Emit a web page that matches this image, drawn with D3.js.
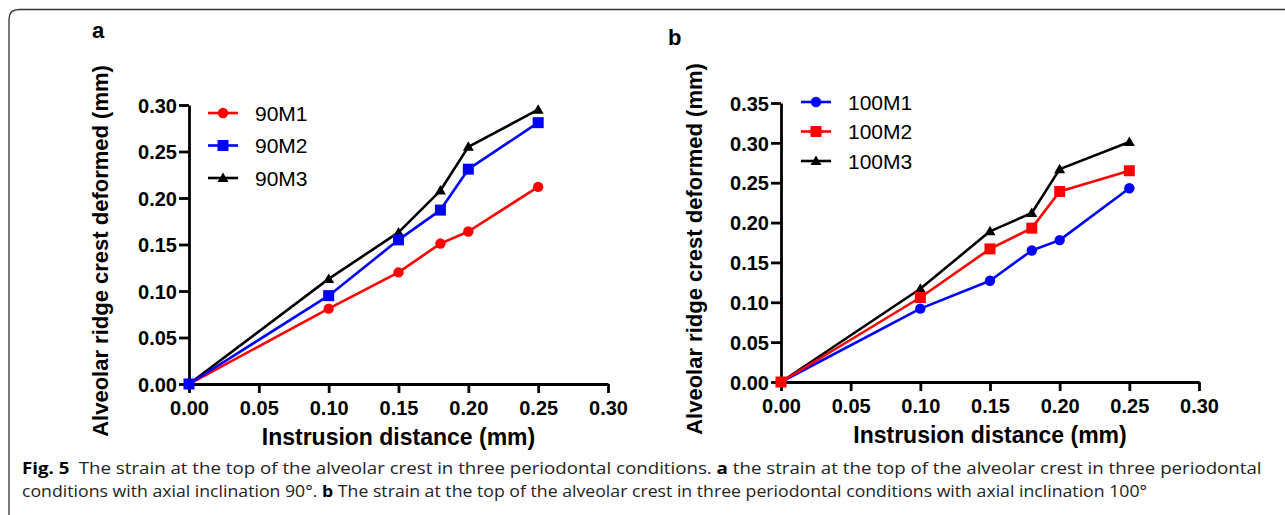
<!DOCTYPE html>
<html>
<head>
<meta charset="utf-8">
<script src="https://cdn.jsdelivr.net/npm/d3@7"></script>
<style>
  html, body { margin: 0; padding: 0; background: #fff; }
  svg { display: block; }
  .tick text { font-family: "Liberation Sans", Arial, sans-serif; font-weight: bold; font-size: 20px; fill: #000; }
  .axis-title { font-family: "Liberation Sans", Arial, sans-serif; font-weight: bold; font-size: 22px; }
  .x-title { font-size: 23px; }
  .legend text { font-family: "Liberation Sans", Arial, sans-serif; font-size: 21px; }
  .caption { font-family: "Open Sans", sans-serif; font-size: 16.5px; fill: #222; }
</style>
</head>
<body>
<div id="chart"></div>
<script>
// x positions shared by both panels (mm)
var xValues = [0, 0.10, 0.15, 0.18, 0.20, 0.25];
var xTicks = [0, 0.05, 0.10, 0.15, 0.20, 0.25, 0.30];

// panel a, axial inclination 90
var namesA = ["90M1", "90M2", "90M3"];
var a90M1 = [0, 0.081, 0.120, 0.151, 0.164, 0.212];
var a90M2 = [0, 0.095, 0.155, 0.187, 0.231, 0.281];
var a90M3 = [0, 0.113, 0.163, 0.208, 0.255, 0.295];
var yTicksA = [0, 0.05, 0.10, 0.15, 0.20, 0.25, 0.30];

// panel b, axial inclination 100
var namesB = ["100M1", "100M2", "100M3"];
var b100M1 = [0, 0.092, 0.127, 0.165, 0.178, 0.243];
var b100M2 = [0, 0.106, 0.167, 0.193, 0.239, 0.265];
var b100M3 = [0, 0.117, 0.189, 0.212, 0.267, 0.301];
var yTicksB = [0, 0.05, 0.10, 0.15, 0.20, 0.25, 0.30, 0.35];

var xLabel = "Instrusion distance (mm)";
var yLabel = "Alveolar ridge crest deformed (mm)";

var svg = d3.select("#chart")
    .append("svg")
    .attr("width", 1285)
    .attr("height", 515);

// frame round the figure
svg.append("path")
    .attr("d", "M9,515 L9,19 Q9,9.5 19,9.5 L1285,9.5")
    .attr("fill", "none")
    .attr("stroke", "#333")
    .attr("stroke-width", 1.3);

var fmt = d3.format(".2f");

function marker(g, shape, color) {
    if (shape === "circle") {
        g.append("circle").attr("r", 5.2).attr("fill", color);
    } else if (shape === "square") {
        g.append("rect").attr("x", -5.5).attr("y", -5.5)
            .attr("width", 11).attr("height", 11).attr("fill", color);
    } else {
        g.append("path").attr("d", "M0,-5.5 L5.5,4 L-5.5,4 Z").attr("fill", color);
    }
}

function drawPanel(p) {
    var g = svg.append("g")
        .attr("transform", "translate(" + p.left + "," + p.top + ")");

    var x = d3.scaleLinear().domain([0, 0.30]).range([0, p.width]);
    var y = d3.scaleLinear().domain([0, p.yMax]).range([p.height, 0]);

    var xAxis = d3.axisBottom(x).tickValues(xTicks).tickFormat(fmt)
        .tickSize(9).tickSizeOuter(0).tickPadding(8);
    var yAxis = d3.axisLeft(y).tickValues(p.yTicks).tickFormat(fmt)
        .tickSize(10).tickSizeOuter(0).tickPadding(2);

    g.append("g")
        .attr("class", "x axis")
        .attr("transform", "translate(0," + p.height + ")")
        .call(xAxis);
    g.append("g")
        .attr("class", "y axis")
        .call(yAxis);

    g.selectAll(".axis path, .axis line")
        .attr("stroke", "#000")
        .attr("stroke-width", 2.8);
    g.selectAll(".y.axis .tick text").attr("dy", "0.36em");
    g.selectAll(".x.axis .tick text").attr("dy", "0.72em");

    // titles
    g.append("text")
        .attr("class", "axis-title x-title")
        .attr("x", p.width / 2)
        .attr("y", p.height + 61)
        .attr("text-anchor", "middle")
        .text(xLabel);
    svg.append("text")
        .attr("class", "axis-title")
        .attr("transform", "translate(" + p.yTitleX + "," + p.yTitleY + ") rotate(-90)")
        .attr("text-anchor", "middle")
        .text(yLabel);

    svg.append("text")
        .attr("class", "axis-title")
        .attr("x", p.tagX)
        .attr("y", p.tagY)
        .attr("font-size", "23px")
        .text(p.tag);

    var line = d3.line()
        .x(function (d, i) { return x(xValues[i]); })
        .y(function (d) { return y(d); });

    p.order.forEach(function (k) {
        var s = p.series[k];
        g.append("path")
            .datum(s.values)
            .attr("fill", "none")
            .attr("stroke", s.color)
            .attr("stroke-width", 2.6)
            .attr("stroke-linejoin", "round")
            .attr("d", line);
        s.values.forEach(function (v, i) {
            var m = g.append("g").attr("transform", "translate(" + x(xValues[i]) + "," + y(v) + ")");
            marker(m, s.shape, s.color);
        });
    });

    // legend
    var lg = svg.append("g").attr("class", "legend");
    p.series.forEach(function (s, i) {
        var row = lg.append("g")
            .attr("transform", "translate(" + p.legX + "," + (p.legY + i * p.legStep) + ")");
        row.append("line")
            .attr("x1", 0).attr("x2", 30)
            .attr("stroke", s.color).attr("stroke-width", 2.6);
        var m = row.append("g").attr("transform", "translate(15,0)");
        marker(m, s.shape, s.color);
        row.append("text")
            .attr("x", 47)
            .attr("dy", "0.36em")
            .text(s.name);
    });
}

drawPanel({
    left: 189, top: 105, width: 419, height: 279, yMax: 0.30, yTicks: yTicksA,
    yTitleX: 108, yTitleY: 251,
    tag: "a", tagX: 92, tagY: 38,
    legX: 208, legY: 113, legStep: 32.5,
    order: [2, 0, 1],
    series: [
        { name: namesA[0], values: a90M1, color: "#ff0000", shape: "circle" },
        { name: namesA[1], values: a90M2, color: "#0000ff", shape: "square" },
        { name: namesA[2], values: a90M3, color: "#000000", shape: "triangle" }
    ]
});

drawPanel({
    left: 781, top: 103, width: 418, height: 279, yMax: 0.35, yTicks: yTicksB,
    yTitleX: 702, yTitleY: 249,
    tag: "b", tagX: 668, tagY: 45,
    legX: 801, legY: 102, legStep: 29.5,
    order: [2, 0, 1],
    series: [
        { name: namesB[0], values: b100M1, color: "#0000ff", shape: "circle" },
        { name: namesB[1], values: b100M2, color: "#ff0000", shape: "square" },
        { name: namesB[2], values: b100M3, color: "#000000", shape: "triangle" }
    ]
});

// caption, squeezed horizontally to the width of the printed lines
var captionLines = [
    [["Fig. 5", true], ["\u2002The strain at the top of the alveolar crest in three periodontal conditions. ", false], ["a", true], [" the strain at the top of the alveolar crest in three periodontal", false]],
    [["conditions with axial inclination 90°. ", false], ["b", true], [" The strain at the top of the alveolar crest in three periodontal conditions with axial inclination 100°", false]]
];
var captionWidths = [1240, 1126];
var captionY = [474, 497];

captionLines.forEach(function (parts, i) {
    var t = svg.append("text")
        .attr("class", "caption");
    parts.forEach(function (p) {
        t.append("tspan")
            .attr("font-weight", p[1] ? "bold" : "normal")
            .attr("fill", p[1] ? "#000" : "#222")
            .text(p[0]);
    });
    var w = t.node().getComputedTextLength();
    var k = captionWidths[i] / w;
    t.attr("transform", "translate(22," + captionY[i] + ") scale(" + k + ",1)");
});
</script>
</body>
</html>
